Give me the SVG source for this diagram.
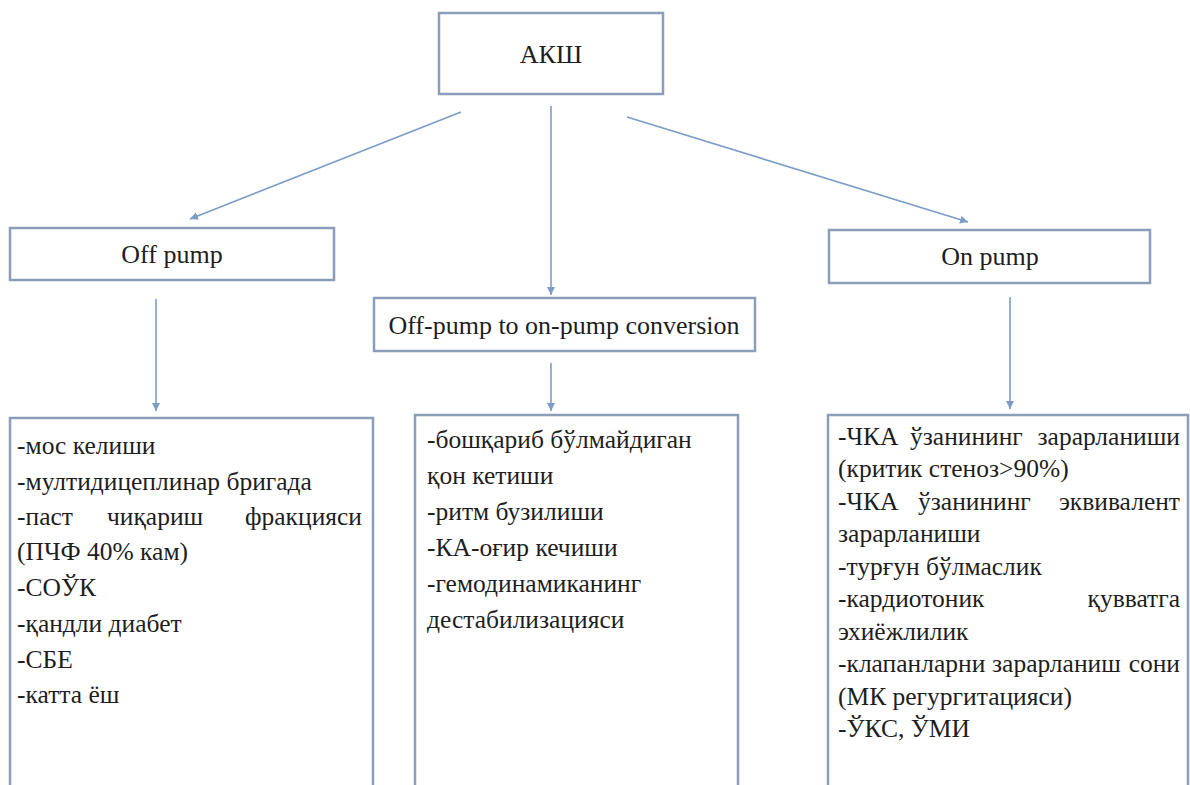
<svg xmlns="http://www.w3.org/2000/svg" width="1190" height="785" viewBox="0 0 1190 785">
<style>
.box{fill:#ffffff;stroke:#8b9db8;stroke-width:2.5}
.hd{font-family:'Liberation Serif','Times New Roman',serif;font-size:26px;fill:#1e1e1e;text-anchor:middle}
.tx{font-family:'Liberation Serif','Times New Roman',serif;font-size:25.5px;fill:#1e1e1e}
.e{text-anchor:end}
.cn{stroke:#7c9cc8;stroke-width:1.6;fill:none;marker-end:url(#ah)}
</style>
<defs>
<marker id="ah" markerUnits="userSpaceOnUse" markerWidth="10" markerHeight="10" refX="8" refY="4" orient="auto">
<path d="M0,0 L8,4 L0,8 Z" fill="#7c9cc8"/>
</marker>
</defs>
<rect width="1190" height="785" fill="#ffffff"/>
<g id="connectors">
<line class="cn" x1="461" y1="112" x2="190" y2="219"/>
<line class="cn" x1="551" y1="106" x2="551" y2="295"/>
<line class="cn" x1="627" y1="117" x2="968" y2="222"/>
<line class="cn" x1="156" y1="299" x2="156" y2="411"/>
<line class="cn" x1="551" y1="363" x2="551" y2="411"/>
<line class="cn" x1="1010" y1="297" x2="1010" y2="409"/>
</g>
<g id="akw">
<rect class="box" x="439" y="13" width="224" height="81"/>
<text class="hd" x="551" y="63">АКШ</text>
</g>
<g id="offpump">
<rect class="box" x="10" y="228" width="324" height="52"/>
<text class="hd" x="172" y="263">Off pump</text>
</g>
<g id="conversion">
<rect class="box" x="374" y="298" width="381" height="53"/>
<text class="hd" x="564" y="334">Off-pump to on-pump conversion</text>
</g>
<g id="onpump">
<rect class="box" x="829" y="230" width="321" height="53"/>
<text class="hd" x="990" y="265">On pump</text>
</g>
<g id="offpump-list">
<rect class="box" x="10" y="418" width="363" height="380"/>
<text class="tx" x="17" y="454">-мос келиши</text>
<text class="tx" x="17" y="490">-мултидицеплинар бригада</text>
<text class="tx" x="17" y="525">-паст</text>
<text class="tx" x="107" y="525">чиқариш</text>
<text class="tx e" x="362" y="525">фракцияси</text>
<text class="tx" x="17" y="560">(ПЧФ 40% кам)</text>
<text class="tx" x="17" y="596">-СОЎК</text>
<text class="tx" x="17" y="632">-қандли диабет</text>
<text class="tx" x="17" y="668">-СБЕ</text>
<text class="tx" x="17" y="703">-катта ёш</text>
</g>
<g id="conversion-list">
<rect class="box" x="415" y="415" width="323" height="383"/>
<text class="tx" x="427" y="448">-бошқариб бўлмайдиган</text>
<text class="tx" x="427" y="484">қон кетиши</text>
<text class="tx" x="427" y="520">-ритм бузилиши</text>
<text class="tx" x="427" y="556">-КА-оғир кечиши</text>
<text class="tx" x="427" y="592">-гемодинамиканинг</text>
<text class="tx" x="427" y="628">дестабилизацияси</text>
</g>
<g id="onpump-list">
<rect class="box" x="828" y="415" width="360" height="383"/>
<text class="tx" x="838" y="445">-ЧКА</text>
<text class="tx" x="910" y="445">ўзанининг</text>
<text class="tx e" x="1180" y="445">зарарланиши</text>
<text class="tx" x="838" y="477">(критик стеноз&gt;90%)</text>
<text class="tx" x="838" y="510">-ЧКА</text>
<text class="tx" x="918" y="510">ўзанининг</text>
<text class="tx e" x="1180" y="510">эквивалент</text>
<text class="tx" x="838" y="542">зарарланиши</text>
<text class="tx" x="838" y="575">-турғун бўлмаслик</text>
<text class="tx" x="838" y="607">-кардиотоник</text>
<text class="tx e" x="1180" y="607">қувватга</text>
<text class="tx" x="838" y="640">эхиёжлилик</text>
<text class="tx" x="838" y="672">-клапанларни</text>
<text class="tx" x="992" y="672">зарарланиш</text>
<text class="tx e" x="1180" y="672">сони</text>
<text class="tx" x="838" y="705">(МК регургитацияси)</text>
<text class="tx" x="838" y="737">-ЎКС, ЎМИ</text>
</g>
</svg>
